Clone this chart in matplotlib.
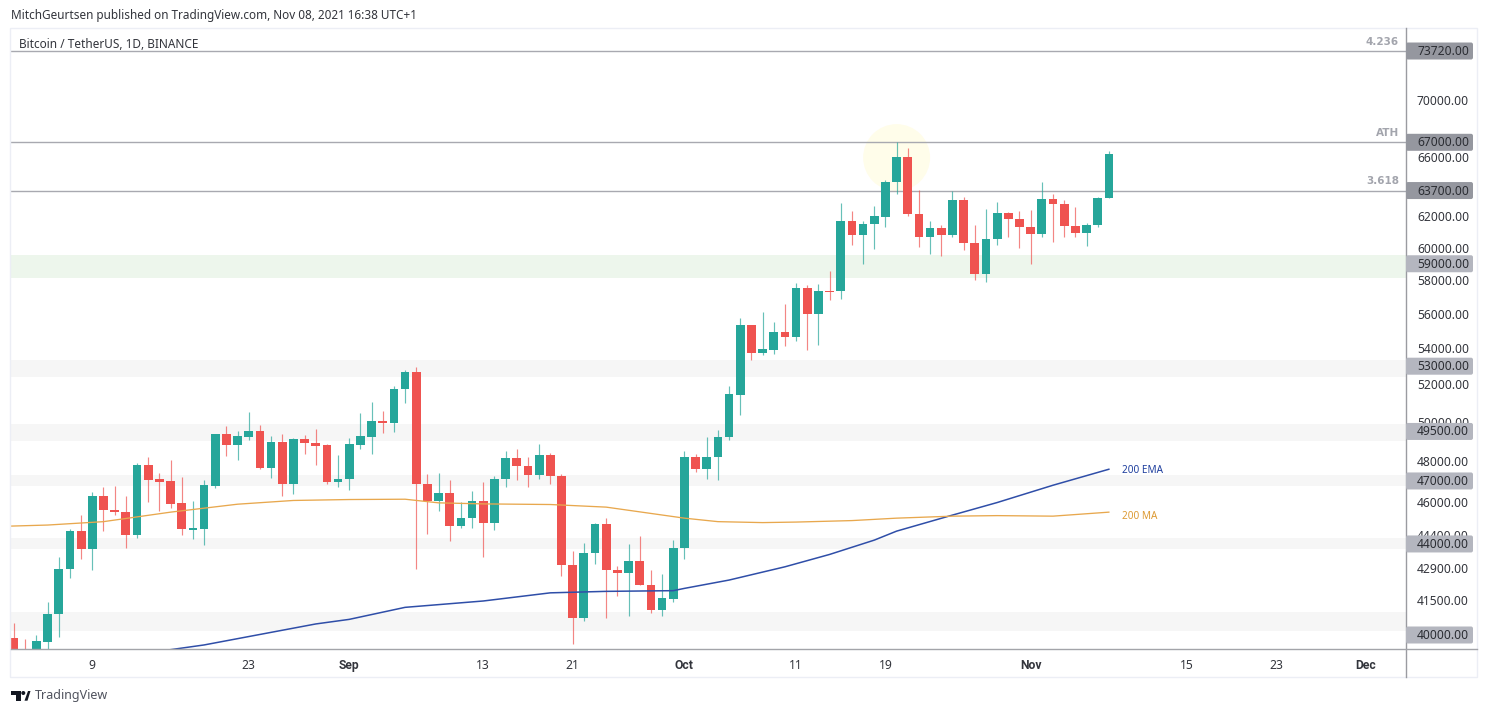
import matplotlib
matplotlib.use("Agg")
import matplotlib.pyplot as plt
import matplotlib.dates as mdates
from matplotlib.lines import Line2D
from matplotlib.patches import Circle, FancyBboxPatch, Polygon, Rectangle
from matplotlib.ticker import NullFormatter, NullLocator
from matplotlib.transforms import IdentityTransform
import pandas as pd

# Daily candles, 2 Aug to 8 Nov 2021
opens = [39888, 39295, 39170, 39720, 40870, 42845, 44595, 43780, 46270, 45600,
         45520, 44400, 47815, 47085, 46990, 45920, 44655, 44690, 46755, 49355,
         48805, 49220, 49510, 47645, 48960, 46840, 49100, 48930, 48790, 46955,
         # Sep
         47085, 48805, 49235, 50030, 49925, 51750, 52675, 46875, 46030, 46435,
         44845, 45190, 46030, 44955, 47100, 48130, 47765, 47285, 48300, 47265,
         43040, 40730, 43565, 44910, 42825, 42665, 43205, 42160, 41059, 41545,
         # Oct
         43820, 48180, 47615, 48195, 49200, 51445, 55315, 53735, 53925, 54930,
         54630, 57495, 55950, 57360, 57315, 61690, 60815, 61495, 61975, 64260,
         65950, 62170, 60665, 61265, 60815, 63080, 60310, 58360, 60560, 62205,
         61840,
         # Nov
         61305, 60860, 63170, 62840, 61350, 60930, 61440, 63210]
closes = [39170, 39090, 39750, 40890, 42860, 44595, 43780, 46270, 45585, 45490,
          44400, 47815, 47037, 46955, 45885, 44690, 44735, 46790, 49355, 48805,
          49250, 49510, 47645, 48960, 46840, 49100, 48895, 48755, 46955, 47120,
          # Sep
          48840, 49250, 50030, 49925, 51770, 52675, 46840, 46030, 46435, 44845,
          45220, 46030, 44955, 47100, 48130, 47745, 47285, 48300, 47250, 43040,
          40730, 43585, 44910, 42813, 42665, 43205, 42160, 41059, 41565, 43835,
          # Oct
          48180, 47615, 48215, 49220, 51460, 55315, 53735, 53945, 54930, 54630,
          57495, 55950, 57335, 57300, 61690, 60815, 61520, 61995, 64285, 65950,
          62145, 60665, 61265, 60815, 63080, 60310, 58360, 60580, 62205, 61815,
          61305,
          # Nov
          60860, 63170, 62840, 61350, 60930, 61460, 63235, 66195]
highs = [40510, 39830, 40000, 41405, 43410, 44700, 45350, 46465, 46710, 46760,
         46255, 47900, 48180, 47395, 48065, 47200, 46030, 47037, 49390, 49770,
         49510, 50500, 49860, 49250, 49355, 49185, 49300, 49650, 48875, 48270,
         # Sep
         49185, 50450, 51035, 50555, 51890, 52771, 52955, 47365, 47395, 47037,
         45985, 46485, 46925, 47265, 48520, 48585, 48180, 48840, 48400, 47365,
         43660, 44030, 44985, 45205, 42980, 44000, 44365, 42813, 42620, 44177,
         # Oct
         48520, 48340, 49220, 49562, 51890, 55735, 55315, 56070, 55490, 56580,
         57840, 57675, 57760, 58525, 62905, 62382, 61690, 62690, 64425, 67000,
         66630, 63745, 61733, 61470, 63655, 63300, 61470, 62495, 62970, 62315,
         62382,
         # Nov
         62445, 64300, 63500, 63080, 62580, 61540, 63300, 66420]
lows = [38970, 38970, 39050, 39170, 39900, 42470, 43310, 42810, 44610, 45360,
        43810, 44255, 46000, 45540, 45680, 44415, 44225, 43955, 46645, 48235,
        48065, 49060, 47595, 47150, 46270, 46365, 48350, 47780, 46875, 46710,
        # Sep
        46535, 48585, 48350, 49405, 49475, 50995, 42860, 44455, 45540, 44150,
        44750, 44750, 43400, 44640, 46710, 47037, 46710, 47085, 46840, 42545,
        39625, 40590, 43095, 40730, 41665, 40790, 42160, 40930, 40790, 41415,
        # Oct
        43310, 47450, 47120, 47037, 49060, 50380, 53365, 53640, 53675, 54110,
        54415, 53886, 54200, 56820, 56855, 60140, 58955, 59890, 61330, 63490,
        62020, 60035, 59575, 59510, 60665, 59826, 58000, 57860, 60185, 60705,
        59970,
        # Nov
        59005, 60650, 60365, 60705, 60705, 60080, 61330, 63210]

# Moving averages, read at the bends of each line
ema_dates = ["2021-08-16", "2021-08-19", "2021-08-29", "2021-09-01", "2021-09-06",
             "2021-09-13", "2021-09-19", "2021-09-24", "2021-09-30", "2021-10-01",
             "2021-10-05", "2021-10-10", "2021-10-14", "2021-10-18", "2021-10-20",
             "2021-10-25", "2021-10-29", "2021-11-03", "2021-11-08"]
ema_values = [39390, 39585, 40465, 40660, 41175, 41450, 41805, 41870, 41900, 42000,
              42368, 42960, 43520, 44177, 44595, 45350, 45950, 46790, 47580]
ma_dates = ["2021-08-01", "2021-08-05", "2021-08-10", "2021-08-16", "2021-08-22",
            "2021-08-27", "2021-09-01", "2021-09-06", "2021-09-09", "2021-09-13",
            "2021-09-19", "2021-09-24", "2021-10-01", "2021-10-04", "2021-10-08",
            "2021-10-11", "2021-10-16", "2021-10-20", "2021-10-25", "2021-10-29",
            "2021-11-03", "2021-11-08"]
ma_values = [44820, 44880, 45040, 45490, 45870, 46050, 46095, 46110, 45935, 45885,
             45855, 45730, 45205, 45040, 44995, 45020, 45090, 45205, 45300, 45325,
             45300, 45490]

# Price levels
line_levels = [73720, 67000, 63700]
line_names = ["4.236", "ATH", "3.618"]
zone_tops = [53365, 49910, 47285, 44280, 40960]
zone_bottoms = [52385, 49030, 46755, 43765, 40155]
green_zone = (58100, 59515)
dark_levels = [73720, 67000, 63700]
light_levels = [59000, 53000, 49500, 47000, 44000, 40000]
y_ticks = [70000, 66000, 62000, 60000, 58000, 56000, 54000, 52000, 50000, 48000,
           46000, 44400, 42900, 41500]
x_tick_dates = ["2021-08-09", "2021-08-23", "2021-09-01", "2021-09-13", "2021-09-21",
                "2021-10-01", "2021-10-11", "2021-10-19", "2021-11-01", "2021-11-15",
                "2021-11-23", "2021-12-01"]
x_tick_labels = ["9", "23", "Sep", "13", "21", "Oct", "11", "19", "Nov", "15", "23", "Dec"]

UP = "#26a69a"
DOWN = "#ef5350"
TEXT = "#33353c"
FONT = "Noto Sans"
W, H = 1488, 714


def px(x, y):
    # pixel position measured from the top left of the picture
    return x, H - y


def num(dates):
    return mdates.date2num(pd.to_datetime(dates))


plt.rcParams["font.family"] = FONT
fig = plt.figure(figsize=(W / 100, H / 100), dpi=100, facecolor="white")
ax = fig.add_axes([11 / W, (H - 649) / H, (1406 - 11) / W, (649 - 28) / H])

days = mdates.date2num(pd.date_range("2021-08-02", periods=len(opens)))
ax.set_yscale("log")
ax.set_xlim(days[0] - 0.28, days[7] + 117.6)
ax.set_ylim(39418, 75517)

# Zones and levels
for top, bottom in zip(zone_tops, zone_bottoms):
    ax.axhspan(bottom, top, color="#f6f6f6", lw=0, zorder=0)
ax.axhspan(green_zone[0], green_zone[1], color="#edf6ec", lw=0, zorder=0)
for level in line_levels:
    ax.axhline(level, color="#a8a9b0", lw=1.0, zorder=1)

# Highlight round the all time high
cx, cy = ax.transData.transform((mdates.date2num(pd.Timestamp("2021-10-20")), 65935))
ax.add_patch(Circle((cx, cy), 33.5, transform=IdentityTransform(), fc="#fffdea",
                    ec="none", zorder=0.5))

# Candles
colors = [UP if c >= o else DOWN for o, c in zip(opens, closes)]
ax.vlines(days, lows, highs, colors=colors, lw=0.85, alpha=0.7, zorder=2)
bottoms = [min(o, c) for o, c in zip(opens, closes)]
heights = [abs(o - c) for o, c in zip(opens, closes)]
ax.bar(days, heights, bottom=bottoms, width=0.78, color=colors, lw=0, zorder=3)

# Moving averages
ax.plot(num(ema_dates), ema_values, color="#2f4ea8", lw=1.1, zorder=4)
ax.plot(num(ma_dates), ma_values, color="#e8a84e", lw=0.95, zorder=4)

ax.annotate("200 EMA", (num(ema_dates)[-1], ema_values[-1]), xytext=(13, -1),
            textcoords="offset pixels", color="#1f3f9e", fontsize=7.2, va="center")
ax.annotate("200 MA", (num(ma_dates)[-1], ma_values[-1]), xytext=(13, -4),
            textcoords="offset pixels", color="#dd9a33", fontsize=7.2, va="center")

# Axes
for side in ax.spines:
    ax.spines[side].set_visible(False)
ax.yaxis.tick_right()
ax.yaxis.set_minor_locator(NullLocator())
ax.yaxis.set_minor_formatter(NullFormatter())
ax.set_yticks(y_ticks)
ax.set_yticklabels([f"{t:.2f}" for t in y_ticks], va="center_baseline")
ax.tick_params(axis="y", length=0, pad=7.9, labelsize=8.7, labelcolor=TEXT)
ax.set_xticks(num(x_tick_dates))
ax.set_xticklabels(x_tick_labels)
ax.tick_params(axis="x", length=0, pad=7.5, labelsize=8.7, labelcolor=TEXT)
for lab in ax.get_xticklabels():
    if lab.get_text() in ("Sep", "Oct", "Nov", "Dec"):
        lab.set_family("Roboto")
        lab.set_fontweight("bold")

# Frame of the widget and the axis rules
fig.add_artist(Rectangle(px(10, 677), 1467, 649, transform=IdentityTransform(),
                         fc="none", ec="#eceef5", lw=1.0, zorder=0.5))
fig.add_artist(Line2D([1406, 1406], [H - 28, H - 677], transform=IdentityTransform(),
                      color="#9a9ba1", lw=1.0, zorder=1))
fig.add_artist(Line2D([11, 1477], [H - 649, H - 649], transform=IdentityTransform(),
                      color="#a3a4a9", lw=1.0, zorder=1))

# Level tags on the price axis
for levels, fill in ((light_levels, "#b4b6bf"), (dark_levels, "#95979f")):
    for level in levels:
        yd = ax.transData.transform((days[0], level))[1]
        fig.add_artist(FancyBboxPatch((1406, yd - 8.5), 67, 17, transform=IdentityTransform(),
                                      boxstyle="round,pad=0,rounding_size=2", fc=fill,
                                      ec="none", zorder=2))
        fig.text(1417 / W, (yd + 1) / H, f"{level:.2f}", fontsize=8.7, color="#2b2d33",
                 va="center_baseline", ha="left", zorder=3)

# Names of the levels
for level, name in zip(line_levels, line_names):
    yd = ax.transData.transform((days[0], level))[1]
    fig.text(1399 / W, (yd + 9.5) / H, name, fontsize=7.5, color="#a3a5ad", fontweight="bold",
             family="DejaVu Sans", ha="right", va="center", zorder=3)

# Header and footer
fig.text(11 / W, (H - 16) / H, "MitchGeurtsen published on TradingView.com, Nov 08, 2021 16:38 UTC+1",
         fontsize=8.47, color=TEXT, va="center")
fig.text(19 / W, (H - 44) / H, "Bitcoin / TetherUS, 1D, BINANCE", fontsize=8.5, color=TEXT, va="center")
fig.text(35 / W, (H - 696) / H, "TradingView", fontsize=9.0, color="#50535e", va="center")

# TradingView mark
for shape in ([(11, 691), (20.5, 691), (20.5, 700.7), (15.5, 700.7), (15.5, 695), (11, 695)],
              [(24.5, 700.7), (28, 691), (30.5, 691), (27.5, 700.7)]):
    fig.add_artist(Polygon([px(x, y) for x, y in shape], transform=IdentityTransform(),
                           fc="#131722", ec="none", zorder=2))
fig.add_artist(Circle(px(23.3, 693), 2, transform=IdentityTransform(), fc="#131722",
                      ec="none", zorder=2))

fig.savefig("out.png", dpi=100)
